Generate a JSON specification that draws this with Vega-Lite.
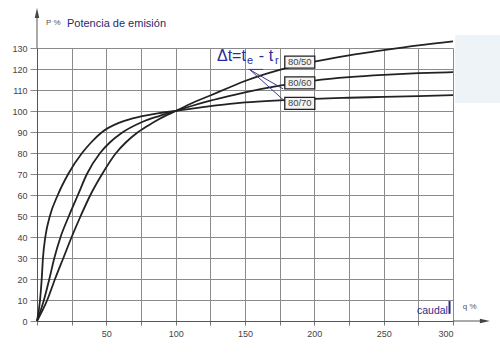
{
  "$schema": "https://vega.github.io/schema/vega-lite/v6.json",
  "width": 416,
  "height": 273,
  "autosize": "none",
  "padding": {"left": 37, "top": 48, "right": 47, "bottom": 35},
  "background": "white",
  "config": {"view": {"stroke": null}, "font": "Liberation Sans"},
  "datasets": {
    "curves": [
      {"s": "80/50", "x": 0, "y": 0}, {"s": "80/50", "x": 7.4, "y": 10}, {"s": "80/50", "x": 13, "y": 20}, {"s": "80/50", "x": 19, "y": 30}, {"s": "80/50", "x": 25, "y": 40}, {"s": "80/50", "x": 31.5, "y": 50}, {"s": "80/50", "x": 38.5, "y": 60}, {"s": "80/50", "x": 47, "y": 70}, {"s": "80/50", "x": 57, "y": 80}, {"s": "80/50", "x": 64, "y": 85}, {"s": "80/50", "x": 72, "y": 89.5}, {"s": "80/50", "x": 80, "y": 93}, {"s": "80/50", "x": 88.5, "y": 96.3}, {"s": "80/50", "x": 100, "y": 100}, {"s": "80/50", "x": 112, "y": 103.8}, {"s": "80/50", "x": 125, "y": 107.4}, {"s": "80/50", "x": 139, "y": 111.3}, {"s": "80/50", "x": 150, "y": 114.3}, {"s": "80/50", "x": 175, "y": 119.6}, {"s": "80/50", "x": 200, "y": 123.5}, {"s": "80/50", "x": 225, "y": 126.5}, {"s": "80/50", "x": 250, "y": 129}, {"s": "80/50", "x": 275, "y": 131.3}, {"s": "80/50", "x": 300, "y": 133.2},
      {"s": "80/60", "x": 0, "y": 0}, {"s": "80/60", "x": 5, "y": 10}, {"s": "80/60", "x": 8.9, "y": 20}, {"s": "80/60", "x": 12.5, "y": 30}, {"s": "80/60", "x": 17, "y": 40}, {"s": "80/60", "x": 23, "y": 50}, {"s": "80/60", "x": 29.5, "y": 60}, {"s": "80/60", "x": 36, "y": 70}, {"s": "80/60", "x": 45.5, "y": 80}, {"s": "80/60", "x": 52.5, "y": 85}, {"s": "80/60", "x": 61, "y": 89.5}, {"s": "80/60", "x": 75, "y": 94.5}, {"s": "80/60", "x": 88, "y": 97.6}, {"s": "80/60", "x": 100, "y": 100}, {"s": "80/60", "x": 112, "y": 102.5}, {"s": "80/60", "x": 125, "y": 104.9}, {"s": "80/60", "x": 139, "y": 107.2}, {"s": "80/60", "x": 150, "y": 108.9}, {"s": "80/60", "x": 175, "y": 112.1}, {"s": "80/60", "x": 200, "y": 114.5}, {"s": "80/60", "x": 225, "y": 116.1}, {"s": "80/60", "x": 250, "y": 117.2}, {"s": "80/60", "x": 275, "y": 118}, {"s": "80/60", "x": 300, "y": 118.5},
      {"s": "80/70", "x": 0, "y": 0}, {"s": "80/70", "x": 2.2, "y": 10}, {"s": "80/70", "x": 3.4, "y": 20}, {"s": "80/70", "x": 4.3, "y": 30}, {"s": "80/70", "x": 6, "y": 40}, {"s": "80/70", "x": 9.3, "y": 50}, {"s": "80/70", "x": 15, "y": 60}, {"s": "80/70", "x": 22.5, "y": 70}, {"s": "80/70", "x": 32.5, "y": 80}, {"s": "80/70", "x": 39, "y": 85}, {"s": "80/70", "x": 47, "y": 90}, {"s": "80/70", "x": 60, "y": 94.6}, {"s": "80/70", "x": 75, "y": 97.4}, {"s": "80/70", "x": 88, "y": 99}, {"s": "80/70", "x": 100, "y": 100}, {"s": "80/70", "x": 125, "y": 102.3}, {"s": "80/70", "x": 139, "y": 103.4}, {"s": "80/70", "x": 150, "y": 104.1}, {"s": "80/70", "x": 175, "y": 105.1}, {"s": "80/70", "x": 200, "y": 105.8}, {"s": "80/70", "x": 225, "y": 106.3}, {"s": "80/70", "x": 250, "y": 106.7}, {"s": "80/70", "x": 275, "y": 107.1}, {"s": "80/70", "x": 300, "y": 107.6}
    ],
    "boxes": [
      {"x": 189.5, "y": 123.3, "t": "80/50"},
      {"x": 189.5, "y": 113.4, "t": "80/60"},
      {"x": 189.5, "y": 103.6, "t": "80/70"}
    ],
    "leaders": [
      {"x": 153.6, "y": 119.6, "x2": 177.5, "y2": 110.5},
      {"x": 153.6, "y": 119.6, "x2": 179, "y2": 104.5},
      {"x": 152.5, "y": 119.8, "x2": 163, "y2": 119.8}
    ],
    "axislines": [
      {"x": 0, "y": 130, "x2": 0, "y2": 146},
      {"x": 300, "y": 0, "x2": 323, "y2": 0}
    ],
    "arrows": [
      {"x": 0, "y": 146.7, "d": "up"},
      {"x": 323, "y": 0, "d": "right"}
    ],
    "panel": [
      {"x": 301.5, "y": 103.8, "x2": 334, "y2": 136.2}
    ],
    "dtmain": [
      {"x": 129.8, "y": 123.8, "t": "Δt=t"},
      {"x": 160, "y": 123.8, "t": "- t"}
    ],
    "dtsub": [
      {"x": 151.4, "y": 122.2, "t": "e"},
      {"x": 171.6, "y": 122.2, "t": "r"}
    ]
  },
  "encoding": {
    "x": {"field": "x", "type": "quantitative", "scale": {"domain": [0, 300], "nice": false, "zero": false},
      "axis": {"values": [0, 25, 50, 75, 100, 125, 150, 175, 200, 225, 250, 275, 300], "title": null, "grid": true, "gridColor": "#8a8a8a", "gridWidth": 1, "domainColor": "#555555", "tickColor": "#777777", "tickSize": 4, "labelFontSize": 9, "labelColor": "#444444", "labelPadding": 4, "labelExpr": "(datum.value % 50 === 0 && datum.value > 0) ? datum.label : ''"}},
    "y": {"field": "y", "type": "quantitative", "scale": {"domain": [0, 130], "nice": false, "zero": false},
      "axis": {"values": [0, 10, 20, 30, 40, 50, 60, 70, 80, 90, 100, 110, 120, 130], "title": null, "grid": true, "gridColor": "#8a8a8a", "gridWidth": 1, "domainColor": "#555555", "tickColor": "#8a8a8a", "tickSize": 7, "labelFontSize": 9, "labelColor": "#444444", "labelPadding": 3}}
  },
  "layer": [
    {
      "data": {"name": "panel"},
      "mark": {"type": "rect", "color": "#eef3f8", "clip": false},
      "encoding": {"x2": {"field": "x2"}, "y2": {"field": "y2"}}
    },
    {
      "data": {"name": "curves"},
      "mark": {"type": "line", "color": "#222222", "strokeWidth": 1.8, "interpolate": "monotone"},
      "encoding": {"detail": {"field": "s", "type": "nominal"}}
    },
    {
      "data": {"name": "axislines"},
      "mark": {"type": "rule", "color": "#555555", "strokeWidth": 1, "clip": false},
      "encoding": {"x2": {"field": "x2"}, "y2": {"field": "y2"}}
    },
    {
      "data": {"name": "arrows"},
      "mark": {"type": "point", "filled": true, "color": "#444444", "size": 100, "opacity": 1, "clip": false},
      "encoding": {"shape": {"field": "d", "type": "nominal", "scale": {"domain": ["up", "right"], "range": ["M0,-1L0.45,1L-0.45,1Z", "M1,0L-1,0.45L-1,-0.45Z"]}, "legend": null}}
    },
    {
      "data": {"name": "leaders"},
      "mark": {"type": "rule", "color": "#3a3a9a", "strokeWidth": 1},
      "encoding": {"x2": {"field": "x2"}, "y2": {"field": "y2"}}
    },
    {
      "data": {"name": "boxes"},
      "mark": {"type": "point", "shape": "M-1,-0.4H1V0.4H-1Z", "size": 900, "filled": true, "fill": "#f4f4f4", "stroke": "#222222", "strokeWidth": 1.3, "opacity": 1}
    },
    {
      "data": {"name": "boxes"},
      "mark": {"type": "text", "fontSize": 9.5, "color": "#444444", "align": "center", "baseline": "middle"},
      "encoding": {"text": {"field": "t"}}
    },
    {
      "data": {"name": "dtmain"},
      "mark": {"type": "text", "fontSize": 16, "color": "#2b2b9b", "align": "left", "baseline": "alphabetic"},
      "encoding": {"text": {"field": "t"}}
    },
    {
      "data": {"name": "dtsub"},
      "mark": {"type": "text", "fontSize": 11, "color": "#2b2b9b", "align": "left", "baseline": "alphabetic"},
      "encoding": {"text": {"field": "t"}}
    },
    {
      "data": {"values": [{"x": 21.6, "y": 140, "t": "Potencia de emisión"}]},
      "mark": {"type": "text", "fontSize": 11, "color": "#1f2a6e", "align": "left", "baseline": "alphabetic", "clip": false},
      "encoding": {"text": {"field": "t"}}
    },
    {
      "data": {"values": [{"x": 6.5, "y": 141, "t": "P %"}]},
      "mark": {"type": "text", "fontSize": 8, "color": "#555555", "align": "left", "baseline": "alphabetic", "clip": false},
      "encoding": {"text": {"field": "t"}}
    },
    {
      "data": {"values": [{"x": 274, "y": 3.4, "t": "caudal"}]},
      "mark": {"type": "text", "fontSize": 10.5, "color": "#2a2a8a", "align": "left", "baseline": "alphabetic"},
      "encoding": {"text": {"field": "t"}}
    },
    {
      "data": {"values": [{"x": 297.5, "y": 3.4, "y2": 9.5}]},
      "mark": {"type": "rule", "color": "#2a2a8a", "strokeWidth": 2},
      "encoding": {"y2": {"field": "y2"}}
    },
    {
      "data": {"values": [{"x": 307, "y": 5.5, "t": "q %"}]},
      "mark": {"type": "text", "fontSize": 8, "color": "#555555", "align": "left", "baseline": "alphabetic", "clip": false},
      "encoding": {"text": {"field": "t"}}
    }
  ]
}
